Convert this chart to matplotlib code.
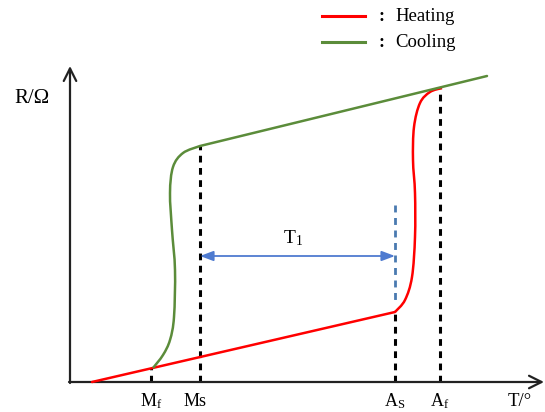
import numpy as np
import matplotlib.pyplot as plt
from matplotlib.path import Path
from matplotlib.patches import PathPatch

plt.rcParams['font.family'] = ['Liberation Serif', 'DejaVu Serif']
plt.rcParams['mathtext.fontset'] = 'custom'
plt.rcParams['mathtext.rm'] = 'Liberation Serif'
plt.rcParams['mathtext.it'] = 'Liberation Serif'

# ── schematic data (arbitrary units: T along x, R along y) ──
# heating: straight rise up to As, then S-shaped jump up to Af
heat_line_T = [22, 325]
heat_line_R = [0, 70]
heat_jump_T = [325, 335, 342, 345, 345, 343, 344, 350, 360, 372]
heat_jump_R = [70, 82, 105, 145, 189, 222, 255, 279, 290, 294]

# cooling: straight line down to Ms, then S-shaped drop to Mf
cool_line_T = [417, 130]
cool_line_R = [306, 236]
cool_drop_T = [130, 113, 103, 100, 102, 105, 104, 100, 93, 83]
cool_drop_R = [236, 229, 215, 189, 152, 112, 65, 42, 27, 14]

mark_T = [81, 130, 325, 370]
mark_R = [14, 236, 70, 294]
mark_txt = [r'M$_\mathrm{f}$', 'Ms', r'A$_\mathrm{S}$', r'A$_\mathrm{f}$']

T1_span = (130, 325)
T1_level = 126
blue_mark = (177, 82)   # top / bottom of the blue dashed marker at As

RED = '#ff0000'
GREEN = '#5b8c3a'


def smooth_path(xs, ys):
    # Catmull-Rom through the given points, as cubic bezier segments
    p = np.column_stack([xs, ys]).astype(float)
    ext = np.vstack([p[0], p, p[-1]])
    verts = [p[0]]
    codes = [Path.MOVETO]
    for i in range(1, len(ext) - 2):
        c1 = ext[i] + (ext[i + 1] - ext[i - 1]) / 6
        c2 = ext[i + 1] - (ext[i + 2] - ext[i]) / 6
        verts += [c1, c2, ext[i + 1]]
        codes += [Path.CURVE4] * 3
    return Path(verts, codes)


fig = plt.figure(figsize=(5.45, 4.12), dpi=100)
ax = fig.add_axes([0, 0, 1, 1])
ax.set_xlim(-70, 475)
ax.set_ylim(-30, 382)
ax.axis('off')

# axes with open arrow heads
axis_kw = dict(arrowstyle='->,head_length=0.9,head_width=0.45', color='#222222', lw=1.6,
               shrinkA=0, shrinkB=0)
ax.annotate('', xy=(0, 316), xytext=(0, -1), arrowprops=axis_kw)
ax.annotate('', xy=(474, 0), xytext=(-1, 0), arrowprops=axis_kw)

# curves
ax.plot(heat_line_T, heat_line_R, color=RED, lw=1.8, solid_capstyle='round', zorder=3)
ax.add_patch(PathPatch(smooth_path(heat_jump_T, heat_jump_R), fill=False,
                       edgecolor=RED, lw=1.8, zorder=3))
ax.plot(cool_line_T, cool_line_R, color=GREEN, lw=1.8, solid_capstyle='round', zorder=4)
ax.add_patch(PathPatch(smooth_path(cool_drop_T, cool_drop_R), fill=False,
                       edgecolor=GREEN, lw=1.8, zorder=4))

# dashed drop lines
for t, r in zip(mark_T, mark_R):
    ax.plot([t, t], [0, r], color='black', lw=2.2, ls=(0, (2.2, 1.8)), zorder=2)

ax.plot([T1_span[1]] * 2, blue_mark, color='#4a7ab0', lw=2.0, ls=(0, (2.5, 2.0)), zorder=2)

# hysteresis width arrow
ax.annotate('', xy=(T1_span[0], T1_level), xytext=(T1_span[1], T1_level),
            arrowprops=dict(arrowstyle='<|-|>,head_length=0.8,head_width=0.3', color='#4f7bd0',
                            lw=1.3, shrinkA=0, shrinkB=0))
ax.text(sum(T1_span) / 2 - 4, T1_level + 8, r'T$_\mathrm{1}$', fontsize=14, ha='center', va='bottom')

# labels
label_dx = [0, -5, 0, 0]
for t, s, dx in zip(mark_T, mark_txt, label_dx):
    ax.text(t + dx, -24, s, fontsize=13, ha='center', va='baseline')
ax.text(450, -24, 'T/°', fontsize=13.5, ha='center', va='baseline')
ax.text(-38, 284, 'R/Ω', fontsize=15, ha='center', va='center')

# legend
ax.plot([252, 295], [366, 366], color=RED, lw=2.2)
ax.plot([252, 295], [340, 340], color=GREEN, lw=2.2)
ax.text(308, 366, ':', fontsize=13, va='center', fontweight='bold')
ax.text(308, 340, ':', fontsize=13, va='center', fontweight='bold')
ax.text(325, 366, 'Heating', fontsize=13.5, va='center')
ax.text(325, 340, 'Cooling', fontsize=13.5, va='center')

fig.savefig('out.png', dpi=100)
